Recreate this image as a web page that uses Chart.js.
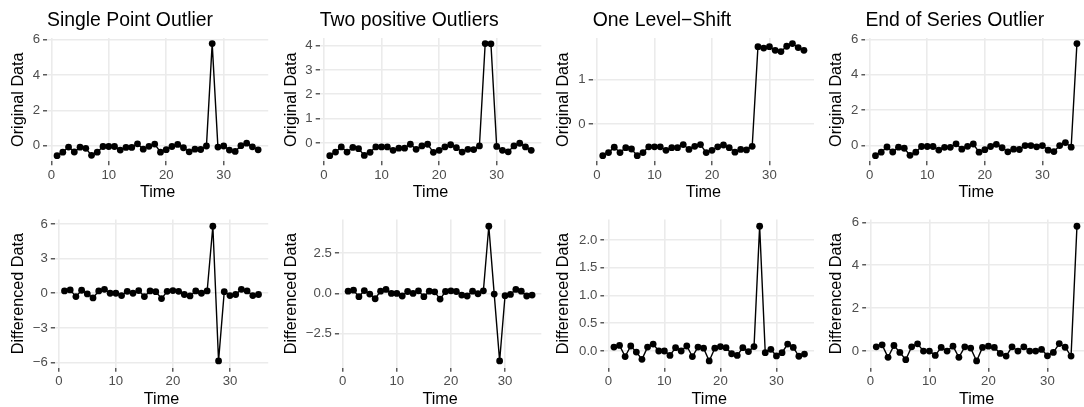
<!DOCTYPE html>
<html>
<head>
<meta charset="utf-8">
<script src="https://cdn.jsdelivr.net/npm/chart.js"></script>
<style>
  html, body { margin: 0; padding: 0; background: #fff; }
  #wrap { position: relative; width: 1084px; height: 407px; overflow: hidden; background: #fff; }
  #wrap canvas { position: absolute; }
</style>
</head>
<body>
<div id="wrap"></div>
<script>
// ---- values ----
const singleOrig = [-0.57, -0.37, -0.08, -0.36, -0.09, -0.15, -0.55, -0.37, -0.05, -0.05, -0.05, -0.25, -0.10, -0.10, 0.10, -0.20, -0.04, 0.09, -0.37, -0.23, -0.05, 0.07, -0.12, -0.35, -0.20, -0.22, -0.02, 5.78, -0.08, -0.02, -0.25, -0.33, 0.00, 0.14, -0.07, -0.24];
const twoOrig = [-0.52, -0.37, -0.16, -0.37, -0.18, -0.23, -0.51, -0.38, -0.16, -0.16, -0.16, -0.30, -0.21, -0.21, -0.05, -0.26, -0.12, -0.05, -0.38, -0.30, -0.16, -0.07, -0.19, -0.37, -0.26, -0.27, -0.12, 4.08, 4.07, -0.14, -0.30, -0.36, -0.12, -0.01, -0.16, -0.30];
const levelOrig = [-0.71, -0.64, -0.52, -0.64, -0.53, -0.56, -0.71, -0.64, -0.51, -0.51, -0.51, -0.59, -0.53, -0.53, -0.46, -0.57, -0.50, -0.46, -0.64, -0.59, -0.51, -0.47, -0.53, -0.63, -0.57, -0.58, -0.50, 1.74, 1.71, 1.74, 1.66, 1.63, 1.75, 1.81, 1.72, 1.66];
const endOrig = [-0.57, -0.37, -0.08, -0.36, -0.09, -0.15, -0.55, -0.37, -0.05, -0.05, -0.05, -0.25, -0.10, -0.10, 0.10, -0.20, -0.04, 0.09, -0.37, -0.23, -0.05, 0.07, -0.12, -0.35, -0.20, -0.22, 0.00, 0.00, -0.07, 0.00, -0.26, -0.34, 0.00, 0.17, -0.09, 5.76];

const singleDiff = [0.20, 0.29, -0.29, 0.26, -0.06, -0.40, 0.20, 0.34, 0.00, 0.00, -0.20, 0.17, 0.00, 0.23, -0.29, 0.20, 0.14, -0.46, 0.17, 0.23, 0.17, -0.11, -0.23, 0.20, 0.00, 0.20, 5.80, -5.86, 0.14, -0.20, -0.11, 0.34, 0.20, -0.20, -0.11];
const twoDiff = [0.14, 0.20, -0.20, 0.18, -0.04, -0.33, 0.14, 0.25, 0.00, 0.00, -0.16, 0.12, 0.00, 0.16, -0.20, 0.14, 0.10, -0.35, 0.12, 0.16, 0.12, -0.10, -0.16, 0.14, -0.02, 0.16, 4.17, -0.04, -4.19, -0.14, -0.06, 0.25, 0.14, -0.16, -0.10];
const levelDiff = [0.07, 0.10, -0.10, 0.09, -0.02, -0.15, 0.07, 0.125, 0.00, 0.00, -0.08, 0.06, 0.00, 0.09, -0.10, 0.07, 0.05, -0.18, 0.05, 0.08, 0.06, -0.05, -0.08, 0.06, -0.01, 0.08, 2.25, -0.03, 0.03, -0.09, -0.03, 0.125, 0.065, -0.095, -0.055];
const endDiff = [0.20, 0.29, -0.29, 0.26, -0.06, -0.40, 0.20, 0.34, 0.00, 0.00, -0.20, 0.17, 0.00, 0.23, -0.29, 0.20, 0.14, -0.46, 0.17, 0.23, 0.17, -0.11, -0.23, 0.20, 0.00, 0.20, 0.00, 0.00, 0.08, -0.22, -0.06, 0.35, 0.18, -0.23, 5.82];

const titles = ['Single Point Outlier', 'Two positive Outliers', 'One Level\u2212Shift', 'End of Series Outlier'];
const xTicks = [0, 10, 20, 30];
const xTickLabels = ['0', '10', '20', '30'];

const yTicksOrig = [[0, 2, 4, 6], [0, 1, 2, 3, 4], [0, 1], [0, 2, 4, 6]];
const yLabelsOrig = [['0', '2', '4', '6'], ['0', '1', '2', '3', '4'], ['0', '1'], ['0', '2', '4', '6']];
const yTicksDiff = [[-6, -3, 0, 3, 6], [-2.5, 0, 2.5], [0, 0.5, 1, 1.5, 2], [0, 2, 4, 6]];
const yLabelsDiff = [['\u22126', '\u22123', '0', '3', '6'], ['\u22122.5', '0.0', '2.5'], ['0.0', '0.5', '1.0', '1.5', '2.0'], ['0', '2', '4', '6']];

const origSeries = [singleOrig, twoOrig, levelOrig, endOrig];
const diffSeries = [singleDiff, twoDiff, levelDiff, endDiff];

// ---- layout (pixels) ----
const FONT = "'Liberation Sans', Arial, Helvetica, sans-serif";
Chart.defaults.font.family = FONT;

const colLeft = [0, 273, 545, 818];
const canvasW = 273;
const plotRight = [268.2, 541.3, 814, 1088];
const plotLeft = [[47, 319.7, 592.7, 865.4], [54.8, 338.9, 604.4, 866.2]];
const rowTop = [0, 204];
const rowH = [204, 207];
const areaTop = [38, 219.5];
const areaBottom = [161.3, 367.7];

const wrap = document.getElementById('wrap');

function makePanel(row, col, values, yTitle, yTicks, yLabels, title) {
  const canvas = document.createElement('canvas');
  const h = rowH[row];
  canvas.width = canvasW;
  canvas.height = h;
  canvas.style.left = colLeft[col] + 'px';
  canvas.style.top = rowTop[row] + 'px';
  canvas.style.width = canvasW + 'px';
  canvas.style.height = h + 'px';
  wrap.appendChild(canvas);

  const n = values.length;
  const pts = values.map((v, i) => ({x: i + 1, y: v}));
  const lo = Math.min(...values), hi = Math.max(...values);
  const yPad = (hi - lo) * 0.05, xPad = (n - 1) * 0.05;

  const yAxisW = plotLeft[row][col] - colLeft[col];
  const xAxisH = rowTop[row] + h - areaBottom[row];

  return new Chart(canvas, {
    type: 'line',
    data: {
      datasets: [{
        data: pts,
        borderColor: '#000000',
        backgroundColor: '#000000',
        borderWidth: 1.4,
        pointRadius: 3.4,
        pointBorderWidth: 0,
        pointBackgroundColor: '#000000',
        tension: 0,
        clip: false
      }]
    },
    options: {
      responsive: false,
      devicePixelRatio: 1,
      animation: false,
      layout: {
        padding: {
          left: 0,
          top: row === 0 ? 0 : areaTop[row] - rowTop[row],
          right: colLeft[col] + canvasW - plotRight[col],
          bottom: 0
        }
      },
      plugins: {
        legend: {display: false},
        tooltip: {enabled: false},
        title: {
          display: !!title,
          text: title || '',
          align: 'start',
          fullSize: false,
          color: '#000000',
          font: {size: 19.4, weight: 'normal'},
          padding: {top: 9, bottom: 38 - 9 - 19.4 * 1.2}
        }
      },
      scales: {
        x: {
          type: 'linear',
          min: 1 - xPad,
          max: n + xPad,
          afterBuildTicks: s => { s.ticks = xTicks.map(v => ({value: v})); },
          afterFit: s => { s.height = xAxisH; },
          border: {display: false},
          grid: {color: '#EBEBEB', lineWidth: 1.6, tickColor: '#333333', tickLength: 4, tickWidth: 1.2},
          ticks: {
            color: '#4D4D4D', font: {size: 13.2}, padding: 2, maxRotation: 0, autoSkip: false,
            callback: (v, i) => xTickLabels[i]
          },
          title: {display: true, text: 'Time', color: '#000000', font: {size: 16.2}, padding: {top: 0, bottom: 1.8}}
        },
        y: {
          type: 'linear',
          min: lo - yPad,
          max: hi + yPad,
          afterBuildTicks: s => { s.ticks = yTicks.map(v => ({value: v})); },
          afterFit: s => { s.width = yAxisW; },
          border: {display: false},
          grid: {color: '#EBEBEB', lineWidth: 1.6, tickColor: '#333333', tickLength: 4, tickWidth: 1.2},
          ticks: {
            color: '#4D4D4D', font: {size: 13.2}, padding: 3, autoSkip: false,
            callback: (v, i) => yLabels[i]
          },
          title: {display: true, text: yTitle, color: '#000000', font: {size: 16.2}, padding: {top: 8.5, bottom: 0}}
        }
      }
    }
  });
}

for (let c = 0; c < 4; c++) {
  makePanel(0, c, origSeries[c], 'Original Data', yTicksOrig[c], yLabelsOrig[c], titles[c]);
  makePanel(1, c, diffSeries[c], 'Differenced Data', yTicksDiff[c], yLabelsDiff[c], null);
}
</script>
</body>
</html>
